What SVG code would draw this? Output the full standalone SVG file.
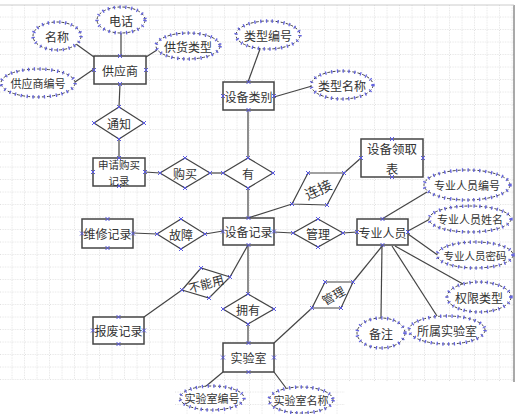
<svg xmlns="http://www.w3.org/2000/svg" width="517" height="414" viewBox="0 0 517 414">
<defs>
<pattern id="grid" width="12.5" height="12.5" patternUnits="userSpaceOnUse" x="0" y="5">
<path d="M12.5 0V12.5M0 12.5H12.5" fill="none" stroke="#b0b0b0" stroke-width="0.8" stroke-dasharray="1 1.5"/>
</pattern>
<marker id="x" markerWidth="6" markerHeight="6" refX="3" refY="3" markerUnits="userSpaceOnUse" overflow="visible">
<path d="M1,1L5,5M5,1L1,5" stroke="#5a5ae0" stroke-width="1" fill="none"/>
</marker>
</defs>
<style>
.t{font-family:"Noto Sans CJK SC","Noto Sans",sans-serif;font-size:12px;fill:#333;text-anchor:middle;dominant-baseline:central}
.s{font-size:11px}
.b{fill:#fff;stroke:#444;stroke-width:1.5}
.d{fill:#fff;stroke:#444;stroke-width:1.2;marker-start:url(#x);marker-mid:url(#x);marker-end:url(#x)}
.e{fill:#fff;stroke:#444;stroke-width:1;stroke-dasharray:3 2}
.ex{fill:none;stroke:#6464e0;stroke-width:3.5;stroke-dasharray:1.3 4.5}
.m{fill:none;stroke:none;marker-start:url(#x);marker-mid:url(#x);marker-end:url(#x)}
.c line{stroke:#444;stroke-width:1.2}
</style>
<rect width="517" height="414" fill="#fff"/>
<polygon points="0,5 514,5 514,382 345,382 345,414 175,414 175,380 0,380" fill="url(#grid)"/>
<line x1="514" y1="5" x2="514" y2="382" stroke="#555" stroke-width="1"/>
<line x1="0" y1="5" x2="514" y2="5" stroke="#ccc" stroke-width="1"/>

<g id="connectors" class="c">
<line x1="121" y1="33" x2="121" y2="56"/>
<line x1="76" y1="44" x2="94" y2="57"/>
<line x1="157" y1="50" x2="146" y2="57"/>
<line x1="75" y1="82" x2="94" y2="69"/>
<line x1="120" y1="84" x2="119" y2="107"/>
<line x1="119" y1="139" x2="119" y2="158"/>
<line x1="145" y1="172" x2="160" y2="173"/>
<line x1="210" y1="173" x2="223" y2="173"/>
<line x1="260" y1="49" x2="248" y2="82"/>
<line x1="274" y1="97" x2="312" y2="86"/>
<line x1="248" y1="110" x2="248" y2="158"/>
<line x1="248" y1="188" x2="248" y2="218"/>
<line x1="248" y1="218" x2="292" y2="204"/>
<line x1="344" y1="173" x2="361" y2="158"/>
<line x1="133" y1="233" x2="157" y2="234"/>
<line x1="205" y1="234" x2="223" y2="231"/>
<line x1="274" y1="232" x2="293" y2="233"/>
<line x1="343" y1="233" x2="357" y2="232"/>
<line x1="382" y1="219" x2="427" y2="192"/>
<line x1="408" y1="231" x2="430" y2="219"/>
<line x1="408" y1="234" x2="439" y2="256"/>
<line x1="382" y1="245" x2="381" y2="318"/>
<line x1="392" y1="246" x2="437" y2="316"/>
<line x1="395" y1="246" x2="463" y2="284"/>
<line x1="383" y1="245" x2="353" y2="282"/>
<line x1="248" y1="245" x2="248" y2="294"/>
<line x1="248" y1="245" x2="230" y2="277"/>
<line x1="182" y1="290" x2="144" y2="317"/>
<line x1="248" y1="324" x2="248" y2="343"/>
<line x1="274" y1="343" x2="312" y2="308"/>
<line x1="223" y1="372" x2="205" y2="387"/>
<line x1="274" y1="372" x2="286" y2="388"/>
</g>

<g id="n-gongyingshang"><rect class="b" x="94" y="56" width="52" height="28"/><polyline class="m" points="120,56 146,70 120,84 94,70"/><text class="t" x="120" y="70">供应商</text></g>
<g id="n-shenqing"><rect class="b" x="93" y="158" width="52" height="28"/><polyline class="m" points="119,158 145,172 119,186 93,172"/><text class="t" x="119" y="164" style="font-size:10.5px">申请购买</text><text class="t" x="119" y="180" style="font-size:10.5px">记录</text></g>
<g id="n-shebeileibie"><rect class="b" x="223" y="82" width="51" height="28"/><polyline class="m" points="248.5,82 274,96 248.5,110 223,96"/><text class="t" x="248.5" y="96">设备类别</text></g>
<g id="n-lingqubiao"><rect class="b" x="361" y="139" width="62" height="38"/><polyline class="m" points="392,139 423,158 392,177 361,158"/><text class="t" x="392" y="148" style="font-size:12.5px">设备领取</text><text class="t" x="392" y="168" style="font-size:12.5px">表</text></g>
<g id="n-weixiu"><rect class="b" x="82" y="219" width="51" height="29"/><polyline class="m" points="107.5,219 133,233.5 107.5,248 82,233.5"/><text class="t" x="107.5" y="233.5">维修记录</text></g>
<g id="n-shebeijilu"><rect class="b" x="223" y="218" width="51" height="27"/><polyline class="m" points="248.5,218 274,231.5 248.5,245 223,231.5"/><text class="t" x="248.5" y="231.5">设备记录</text></g>
<g id="n-zhuanye"><rect class="b" x="357" y="219" width="51" height="26"/><polyline class="m" points="382.5,219 408,232 382.5,245 357,232"/><text class="t" x="382.5" y="232">专业人员</text></g>
<g id="n-baofei"><rect class="b" x="93" y="317" width="51" height="27"/><polyline class="m" points="118.5,317 144,330.5 118.5,344 93,330.5"/><text class="t" x="118.5" y="330.5">报废记录</text></g>
<g id="n-shiyanshi"><rect class="b" x="223" y="343" width="51" height="29"/><polyline class="m" points="248.5,343 274,357.5 248.5,372 223,357.5"/><text class="t" x="248.5" y="357.5">实验室</text></g>

<g id="r-tongzhi"><polygon class="d" points="119,107 144,123 119,139 94,123 119,107"/><text class="t" x="119" y="123">通知</text></g>
<g id="r-goumai"><polygon class="d" points="185,158 210,173 185,188 160,173 185,158"/><text class="t" x="185" y="173">购买</text></g>
<g id="r-you"><polygon class="d" points="248,158 273,173 248,188 223,173 248,158"/><text class="t" x="248" y="173">有</text></g>
<g id="r-guzhang"><polygon class="d" points="181,219 205,234 181,249 157,234 181,219"/><text class="t" x="181" y="234">故障</text></g>
<g id="r-guanli1"><polygon class="d" points="318,219 343,233 318,247 293,233 318,219"/><text class="t" x="318" y="233">管理</text></g>
<g id="r-yongyou"><polygon class="d" points="248,294 274,309 248,324 223,309 248,294"/><text class="t" x="248" y="309">拥有</text></g>
<g id="r-lianjie"><polygon class="d" points="308,173 344,173 327,205 292,204 308,173"/><text class="t" x="318" y="189" style="font-size:14px" transform="rotate(-25 318 189)">连接</text></g>
<g id="r-guanli2"><polygon class="d" points="325,282 353,282 341,308 312,308 325,282"/><text class="t" x="333" y="295" transform="rotate(-30 333 295)">管理</text></g>
<g id="r-bunengyong"><polygon class="d" points="182,290 201,268 230,277 209,298 182,290"/><text class="t" x="206" y="283" transform="rotate(-15 206 283)">不能用</text></g>

<g id="a-dianhua"><ellipse class="e" cx="121" cy="20" rx="24" ry="13"/><ellipse class="ex" cx="121" cy="20" rx="24" ry="13"/><text class="t" x="121" y="20">电话</text></g>
<g id="a-mingcheng"><ellipse class="e" cx="57" cy="36" rx="24" ry="14"/><ellipse class="ex" cx="57" cy="36" rx="24" ry="14"/><text class="t" x="57" y="36">名称</text></g>
<g id="a-gonghuo"><ellipse class="e" cx="188" cy="46" rx="32" ry="13"/><ellipse class="ex" cx="188" cy="46" rx="32" ry="13"/><text class="t" x="188" y="46">供货类型</text></g>
<g id="a-gysbh"><ellipse class="e" cx="38" cy="83" rx="37" ry="14"/><ellipse class="ex" cx="38" cy="83" rx="37" ry="14"/><text class="t s" x="38" y="83">供应商编号</text></g>
<g id="a-lxbh"><ellipse class="e" cx="268" cy="35" rx="32" ry="14"/><ellipse class="ex" cx="268" cy="35" rx="32" ry="14"/><text class="t" x="268" y="35">类型编号</text></g>
<g id="a-lxmc"><ellipse class="e" cx="342" cy="85" rx="31" ry="14"/><ellipse class="ex" cx="342" cy="85" rx="31" ry="14"/><text class="t" x="342" y="85">类型名称</text></g>
<g id="a-zybh"><ellipse class="e" cx="467" cy="185" rx="43" ry="15"/><ellipse class="ex" cx="467" cy="185" rx="43" ry="15"/><text class="t s" x="467" y="185">专业人员编号</text></g>
<g id="a-zyxm"><ellipse class="e" cx="470" cy="219" rx="41" ry="13"/><ellipse class="ex" cx="470" cy="219" rx="41" ry="13"/><text class="t s" x="470" y="219">专业人员姓名</text></g>
<g id="a-zymm"><ellipse class="e" cx="475" cy="255" rx="38" ry="13"/><ellipse class="ex" cx="475" cy="255" rx="38" ry="13"/><text class="t" x="475" y="255" style="font-size:10.5px">专业人员密码</text></g>
<g id="a-qxlx"><ellipse class="e" cx="479" cy="297" rx="32" ry="15"/><ellipse class="ex" cx="479" cy="297" rx="32" ry="15"/><text class="t" x="479" y="297">权限类型</text></g>
<g id="a-ssys"><ellipse class="e" cx="447" cy="330" rx="38" ry="14"/><ellipse class="ex" cx="447" cy="330" rx="38" ry="14"/><text class="t" x="447" y="330">所属实验室</text></g>
<g id="a-beizhu"><ellipse class="e" cx="381" cy="333" rx="24" ry="15"/><ellipse class="ex" cx="381" cy="333" rx="24" ry="15"/><text class="t" x="381" y="333">备注</text></g>
<g id="a-sysbh"><ellipse class="e" cx="212" cy="398" rx="32" ry="12"/><ellipse class="ex" cx="212" cy="398" rx="32" ry="12"/><text class="t s" x="212" y="398">实验室编号</text></g>
<g id="a-sysmc"><ellipse class="e" cx="301" cy="400" rx="32" ry="13"/><ellipse class="ex" cx="301" cy="400" rx="32" ry="13"/><text class="t s" x="301" y="400">实验室名称</text></g>
</svg>
